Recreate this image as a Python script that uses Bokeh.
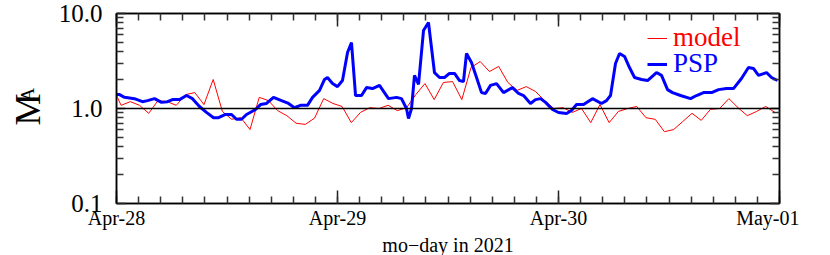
import numpy as np
from bokeh.plotting import figure
from bokeh.layouts import row
from bokeh.models import (Range1d, FixedTicker, LinearAxis, LogAxis, Span, Label,
                          Legend, LegendItem, PrintfTickFormatter, CustomJSTickFormatter)
from bokeh.embed import file_html
from bokeh.resources import INLINE

# ---------------- data (hours since 2021-04-28 00:00) ----------------
model_hours = [0.0] + [h + 0.5 for h in range(72)]
model_ma = [1.37,
            1.08, 1.18, 1.08, 0.89, 1.21, 1.18, 1.08, 1.40, 1.47, 1.10,
            2.02, 0.93, 0.77, 0.80, 0.60, 1.31, 1.21, 0.95, 0.84, 0.70,
            0.68, 0.79, 1.27, 1.13, 1.05, 0.71, 0.91, 1.02, 1.00, 1.08,
            0.95, 1.02, 1.40, 1.83, 1.24, 1.88, 1.92, 1.24, 2.70, 3.12,
            2.45, 2.77, 1.88, 1.55, 1.70, 1.51, 1.21, 1.00, 1.02, 0.91,
            1.00, 0.71, 1.10, 0.71, 0.93, 1.00, 1.05, 0.80, 0.77, 0.57,
            0.60, 0.73, 0.89, 0.75, 0.98, 1.00, 1.27, 1.02, 0.84, 0.93,
            1.05, 0.91]

psp_hours = [0.00, 0.33, 0.87, 1.95, 2.82, 3.37, 4.13, 4.89, 5.54, 6.08,
             6.84, 7.60, 8.25, 9.01, 9.77, 10.54, 11.08, 11.84, 12.49, 13.03,
             13.58, 14.12, 15.10, 15.64, 16.29, 17.05, 17.92, 18.68, 19.33, 19.98,
             20.74, 21.29, 22.05, 22.59, 22.91, 23.46, 24.00, 24.54, 25.09, 25.52,
             25.96, 26.61, 27.15, 27.80, 28.56, 29.54, 30.41, 30.95, 31.49, 31.71,
             32.04, 32.36, 32.80, 33.34, 33.88, 34.53, 35.08, 35.62, 36.16, 36.71,
             37.25, 37.68, 38.01, 38.55, 39.10, 39.64, 40.07, 40.62, 41.27, 42.03,
             43.00, 43.66, 44.20, 44.96, 45.50, 46.05, 46.59, 47.35, 48.00, 48.87,
             49.41, 49.96, 50.72, 51.69, 52.67, 53.21, 53.65, 54.19, 54.63, 55.17,
             55.71, 56.26, 57.02, 57.67, 58.64, 59.19, 59.84, 60.38, 61.25, 62.34,
             62.99, 63.75, 64.62, 65.38, 66.24, 67.00, 67.87, 68.63, 69.17, 69.72,
             70.59, 71.13, 71.78]
psp_ma = [1.40, 1.40, 1.31, 1.27, 1.18, 1.21, 1.27, 1.16, 1.18, 1.24,
          1.24, 1.37, 1.27, 1.05, 0.91, 0.80, 0.80, 0.865, 0.865, 0.77,
          0.77, 0.865, 0.976, 1.10, 1.13, 1.31, 1.21, 1.13, 1.02, 1.08,
          1.08, 1.31, 1.55, 2.02, 2.12, 1.83, 1.70, 1.97, 3.89, 4.95,
          1.37, 1.37, 1.66, 1.62, 1.75, 1.27, 1.31, 1.27, 1.00, 0.785,
          1.00, 2.23, 1.79, 6.62, 8.04, 2.39, 2.12, 2.12, 2.34, 2.34,
          1.97, 1.92, 3.79, 3.05, 2.12, 1.47, 1.44, 1.75, 1.83, 1.47,
          1.66, 1.44, 1.37, 1.13, 1.24, 1.27, 1.16, 0.976, 0.908, 0.886,
          0.953, 1.10, 1.10, 1.27, 1.13, 1.21, 1.37, 2.98, 3.79, 3.53,
          2.70, 2.12, 2.02, 1.97, 2.39, 2.23, 1.58, 1.47, 1.37, 1.27,
          1.37, 1.47, 1.47, 1.58, 1.62, 1.62, 2.07, 2.70, 2.64, 2.23,
          2.39, 2.12, 1.97]

day_ticks = [0, 24, 48, 72]
day_labels = ["Apr-28", "Apr-29", "Apr-30", "May-01"]
x_minor_step = 2.4
y_major = [0.1, 1.0, 10.0]
y_minor = [0.2, 0.3, 0.4, 0.5, 0.6, 0.7, 0.8, 0.9, 2, 3, 4, 5, 6, 7, 8, 9]
reference_level = 1.0

FONT = "Liberation Serif"

x_minor = [round(i * x_minor_step, 3) for i in range(int(72 / x_minor_step) + 1)]

LABEL_COL_W = 50

p = figure(frame_width=663, frame_height=190, y_axis_type="log",
           x_range=Range1d(0, 72), y_range=Range1d(0.1, 10),
           output_backend="svg", toolbar_location=None,
           min_border_left=116 - LABEL_COL_W, min_border_top=13, min_border_right=20,
           min_border_bottom=10)
p.xgrid.visible = False
p.ygrid.visible = False
p.outline_line_color = "black"
p.outline_line_width = 1.5
p.background_fill_color = "white"
p.border_fill_color = "white"


def style_axis(ax, major_in, minor_in):
    ax.major_tick_in = major_in
    ax.major_tick_out = 0
    ax.minor_tick_in = minor_in
    ax.minor_tick_out = 0
    ax.axis_line_color = "black"
    ax.axis_line_width = 1.5
    ax.major_tick_line_color = "#222222"
    ax.major_tick_line_width = 1.5
    ax.minor_tick_line_color = "#333333"
    ax.minor_tick_line_width = 1.5


# bottom x axis
xa = p.xaxis[0]
xa.ticker = FixedTicker(ticks=day_ticks, minor_ticks=x_minor)
xa.major_label_overrides = {t: l for t, l in zip(day_ticks, day_labels)}
xa.major_label_text_font = FONT
xa.major_label_text_font_size = "20px"
xa.major_label_text_color = "black"
xa.major_label_standoff = 3
xa.axis_label = "mo\u2212day in 2021"
xa.axis_label_text_font = FONT
xa.axis_label_text_font_size = "20px"
xa.axis_label_text_font_style = "normal"
xa.axis_label_text_color = "black"
xa.axis_label_standoff = 2
style_axis(xa, 13, 7)

# left y axis
ya = p.yaxis[0]
ya.ticker = FixedTicker(ticks=y_major, minor_ticks=y_minor)
ya.formatter = PrintfTickFormatter(format="%.1f")
ya.major_label_text_font = FONT
ya.major_label_text_font_size = "25px"
ya.major_label_text_color = "black"
ya.major_label_standoff = 14
style_axis(ya, 9, 7)

# mirrored top / right axes (ticks only, empty labels)
top = LinearAxis(ticker=FixedTicker(ticks=day_ticks, minor_ticks=x_minor),
                 formatter=CustomJSTickFormatter(code="return ''"),
                 major_label_standoff=0)
style_axis(top, 13, 7)
p.add_layout(top, "above")
right = LogAxis(ticker=FixedTicker(ticks=y_major, minor_ticks=y_minor),
                formatter=CustomJSTickFormatter(code="return ''"),
                major_label_standoff=0)
style_axis(right, 9, 7)
p.add_layout(right, "right")

# reference line
p.add_layout(Span(location=reference_level, dimension="width",
                  line_color="black", line_width=1.5))

r_model = p.line(model_hours, model_ma, line_color="#ff0000", line_width=1)
r_psp = p.line(psp_hours, psp_ma, line_color="#0000ff", line_width=3)

# legends (one per colour)
common = dict(label_text_font=FONT, label_text_font_size="27px",
              glyph_width=20, glyph_height=20, label_standoff=6,
              padding=0, margin=0, spacing=0,
              border_line_alpha=0, background_fill_alpha=0)
leg1 = Legend(items=[LegendItem(label="model", renderers=[r_model])],
              location=(531, 150), label_text_color="#ff0000", **common)
leg2 = Legend(items=[LegendItem(label="PSP", renderers=[r_psp])],
              location=(531, 124), label_text_color="#0000ff", **common)
p.add_layout(leg1)
p.add_layout(leg2)

# ---- narrow column on the left that holds the rotated y-axis title M_A ----
LAB_H = 240
lab = figure(width=LABEL_COL_W, height=LAB_H, x_range=Range1d(0, 1), y_range=Range1d(0, 1),
             output_backend="svg", toolbar_location=None,
             x_axis_location=None, y_axis_location=None, min_border=0)
lab.grid.visible = False
lab.outline_line_color = None
lab.background_fill_color = "white"
lab.border_fill_color = "white"
lab.add_layout(Label(x=27, y=60, x_units="screen", y_units="screen", text="M",
                     angle=np.pi / 2, text_font=FONT, text_font_size="36px",
                     text_align="left", text_baseline="alphabetic", text_color="black"))
lab.add_layout(Label(x=27, y=84, x_units="screen", y_units="screen", text="A",
                     angle=np.pi / 2, text_font=FONT, text_font_size="19px",
                     text_align="left", text_baseline="alphabetic", text_color="black"))

layout = row(lab, p, spacing=0)
open("out.html", "w").write(file_html(layout, INLINE))
